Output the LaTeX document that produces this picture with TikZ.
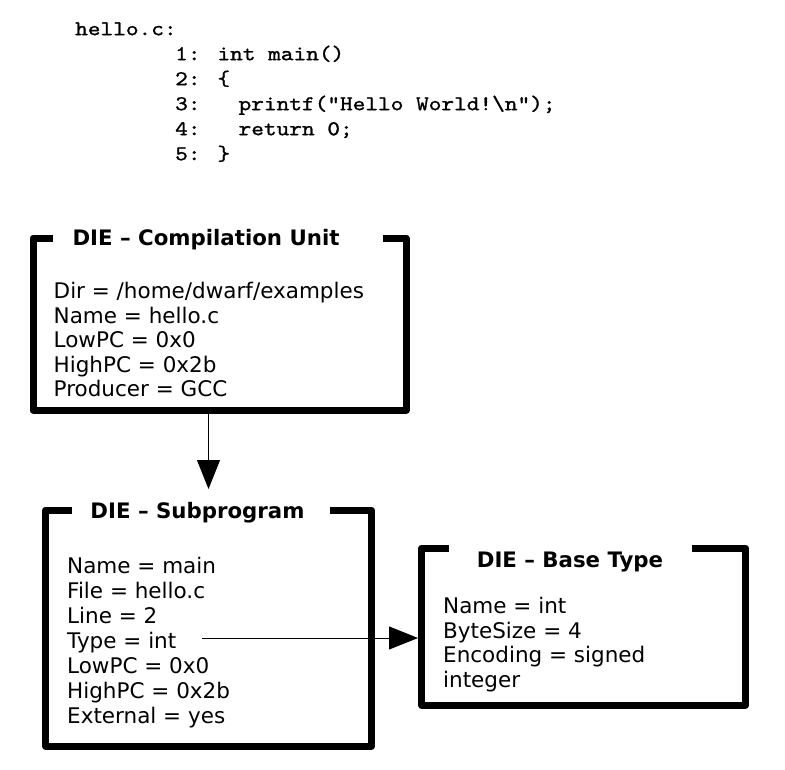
\documentclass[tikz,border=0pt]{standalone}
\usepackage{fontspec}
\setmainfont{DejaVu Sans}
\newfontfamily\codefont{lmmono10-regular.otf}[FakeStretch=1.15,FakeBold=1.2]
\usetikzlibrary{arrows.meta}
\begin{document}
\begin{tikzpicture}[x=1pt,y=-1pt,
  boxarea/.style={inner sep=0pt, outer sep=0pt},
  boxline/.style={line width=7pt, line join=round},
  dietitle/.style={anchor=base, inner sep=0pt, font=\fontsize{21.3}{25}\selectfont\bfseries},
  diebody/.style={anchor=north west, align=left, inner sep=0pt},
  codetext/.style={anchor=north west, align=left, inner sep=0pt, font=\codefont\fontsize{21}{25}\selectfont},
  arr/.style={line width=1pt, -{Triangle[length=29pt,width=23pt]}}
]
\useasboundingbox (0,0) rectangle (785,769);

% source code
\node[codetext] (file) at (75,19) {\rule{0pt}{16pt}hello.c:};
\node[codetext] (code) at (175,44) {\rule{0pt}{16pt}1: int main()\\
2: \{\\
3:~~~printf("Hello World!\textbackslash n");\\
4:~~~return 0;\\
5: \}};

% DIE - Compilation Unit
\node[boxarea, minimum width=373pt, minimum height=172pt] (cu) at (219.5,324) {};
\draw[boxline] ([xshift=20pt]cu.north west) -- (cu.north west) -- (cu.south west)
  -- (cu.south east) -- (cu.north east) -- ([xshift=-23pt]cu.north east);
\node[dietitle] (cutitle) at (206,245) {DIE – Compilation Unit};
\node[diebody, font=\fontsize{21.5}{24.5}\selectfont] (cubody) at (53.5,282) {\rule{0pt}{16pt}Dir = /home/dwarf/examples\\
Name = hello.c\\
LowPC = 0x0\\
HighPC = 0x2b\\
Producer = GCC};

% DIE - Subprogram
\node[boxarea, minimum width=326pt, minimum height=236pt] (sp) at (208.5,628) {};
\draw[boxline] ([xshift=26.5pt]sp.north west) -- (sp.north west) -- (sp.south west)
  -- (sp.south east) -- (sp.north east) -- ([xshift=-41.5pt]sp.north east);
\node[dietitle] (sptitle) at (197.5,518) {DIE – Subprogram};
\node[diebody, font=\fontsize{21.5}{25}\selectfont] (spbody) at (67,557) {\rule{0pt}{16pt}Name = main\\
File = hello.c\\
Line = 2\\
Type = int\\
LowPC = 0x0\\
HighPC = 0x2b\\
External = yes};

% DIE - Base Type
\node[boxarea, minimum width=324pt, minimum height=157pt] (bt) at (583.5,626.5) {};
\draw[boxline] ([xshift=27.5pt]bt.north west) -- (bt.north west) -- (bt.south west)
  -- (bt.south east) -- (bt.north east) -- ([xshift=-53.5pt]bt.north east);
\node[dietitle] (bttitle) at (570,567) {DIE – Base Type};
\node[diebody, font=\fontsize{21.5}{24.5}\selectfont] (btbody) at (443,597) {\rule{0pt}{16pt}Name = int\\
ByteSize = 4\\
Encoding = signed\\
integer};

% connectors
\draw[arr, shorten >=21pt] (sp.north |- cu.south) -- (sp.north);
\coordinate (typeref) at (202,638);
\draw[arr, shorten >=3.5pt] (typeref) -- (bt.west |- typeref);
\end{tikzpicture}
\end{document}
